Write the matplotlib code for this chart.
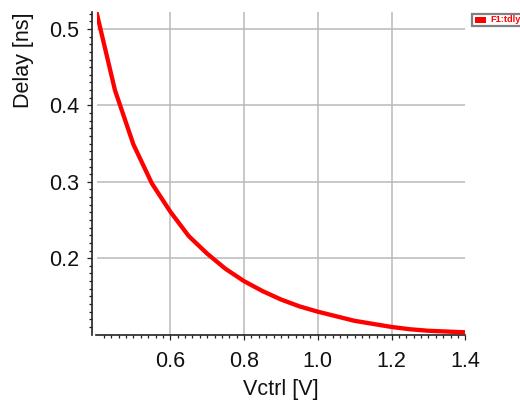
import numpy as np
import matplotlib
matplotlib.use('Agg')
import matplotlib.pyplot as plt
from matplotlib.ticker import FixedLocator, FixedFormatter
from matplotlib.patches import Rectangle

# ---- data ----
vctrl = [0.40, 0.45, 0.50, 0.55, 0.60, 0.65, 0.70, 0.75, 0.80, 0.85, 0.90,
         0.95, 1.00, 1.05, 1.10, 1.15, 1.20, 1.25, 1.30, 1.35, 1.40]
delay = [0.522, 0.420, 0.349, 0.298, 0.261, 0.229, 0.206, 0.186, 0.170, 0.157, 0.146,
         0.137, 0.130, 0.124, 0.118, 0.114, 0.110, 0.107, 0.105, 0.104, 0.103]

x_major = [0.6, 0.8, 1.0, 1.2, 1.4]
x_labels = ['0.6', '0.8', '1.0', '1.2', '1.4']
y_major = [0.2, 0.3, 0.4, 0.5]
y_labels = ['0.2', '0.3', '0.4', '0.5']
x_label = 'Vctrl [V]'
y_label = 'Delay [ns]'
legend_label = 'F1:tdly'

plt.rcParams['font.family'] = ['Liberation Sans', 'DejaVu Sans']

W, H = 520, 401
fig = plt.figure(figsize=(W / 100, H / 100), dpi=100)
left, right, top, bottom = 96.5, 465.3, 12.2, 334.6
ax = fig.add_axes([left / W, 1 - bottom / H, (right - left) / W, (bottom - top) / H])

ax.set_xlim(0.4, 1.4)
ax.set_ylim(0.1, 0.522)

grid_c = '#b9b9b9'
for v in x_major:
    if v < 1.4 - 1e-9:
        ax.axvline(v, color=grid_c, lw=1.1, zorder=1)
for v in y_major:
    ax.axhline(v, color=grid_c, lw=1.1, zorder=1)

ax.plot(vctrl, delay, color='#ff0000', lw=3.1, solid_capstyle='butt',
        solid_joinstyle='round', zorder=3)

# ticks
x_minor = [m for m in np.round(np.arange(0.42, 1.40, 0.02), 2) if not np.any(np.isclose(m, x_major))]
y_minor = [m for m in np.round(np.arange(0.11, 0.525, 0.01), 2) if not np.any(np.isclose(m, y_major))]
ax.xaxis.set_major_locator(FixedLocator(x_major))
ax.xaxis.set_major_formatter(FixedFormatter(x_labels))
ax.xaxis.set_minor_locator(FixedLocator(x_minor))
ax.yaxis.set_major_locator(FixedLocator(y_major))
ax.yaxis.set_major_formatter(FixedFormatter(y_labels))
ax.yaxis.set_minor_locator(FixedLocator(y_minor))

spine_c = '#222222'
for s in ['top', 'right']:
    ax.spines[s].set_visible(False)
for s in ['left', 'bottom']:
    ax.spines[s].set_color(spine_c)
    ax.spines[s].set_linewidth(1.2)
ax.spines['left'].set_position(('outward', 3))

ax.tick_params(axis='both', which='both', direction='out', color=spine_c, width=0.9)
ax.tick_params(axis='both', which='major', length=3.5, labelsize=15.5, labelcolor='#111111')
ax.tick_params(axis='both', which='minor', length=2.2)
ax.tick_params(axis='x', which='major', pad=8)
ax.tick_params(axis='y', which='major', pad=6)

ax.set_xlabel(x_label, fontsize=15.5, color='#111111', labelpad=5)
ax.set_ylabel(y_label, fontsize=15.5, color='#111111', loc='top', labelpad=11)

# legend box (top right, partly cut off)
def fx(x):
    return x / W

def fy(y):
    return 1 - y / H

fig.patches.append(Rectangle((fx(471.5), fy(26.0)), fx(60), 12.5 / H,
                             transform=fig.transFigure, facecolor='white',
                             edgecolor='#808080', lw=1.6, zorder=5))
fig.patches.append(Rectangle((fx(475.0), fy(22.5)), fx(10.5), 5.3 / H,
                             transform=fig.transFigure, facecolor='#ff0000',
                             edgecolor='none', zorder=6))
fig.text(fx(490.0), fy(19.8), legend_label, color='#ff0000', fontsize=6.6,
         fontweight='bold', ha='left', va='center', zorder=7)

fig.savefig('out.png', dpi=100)
